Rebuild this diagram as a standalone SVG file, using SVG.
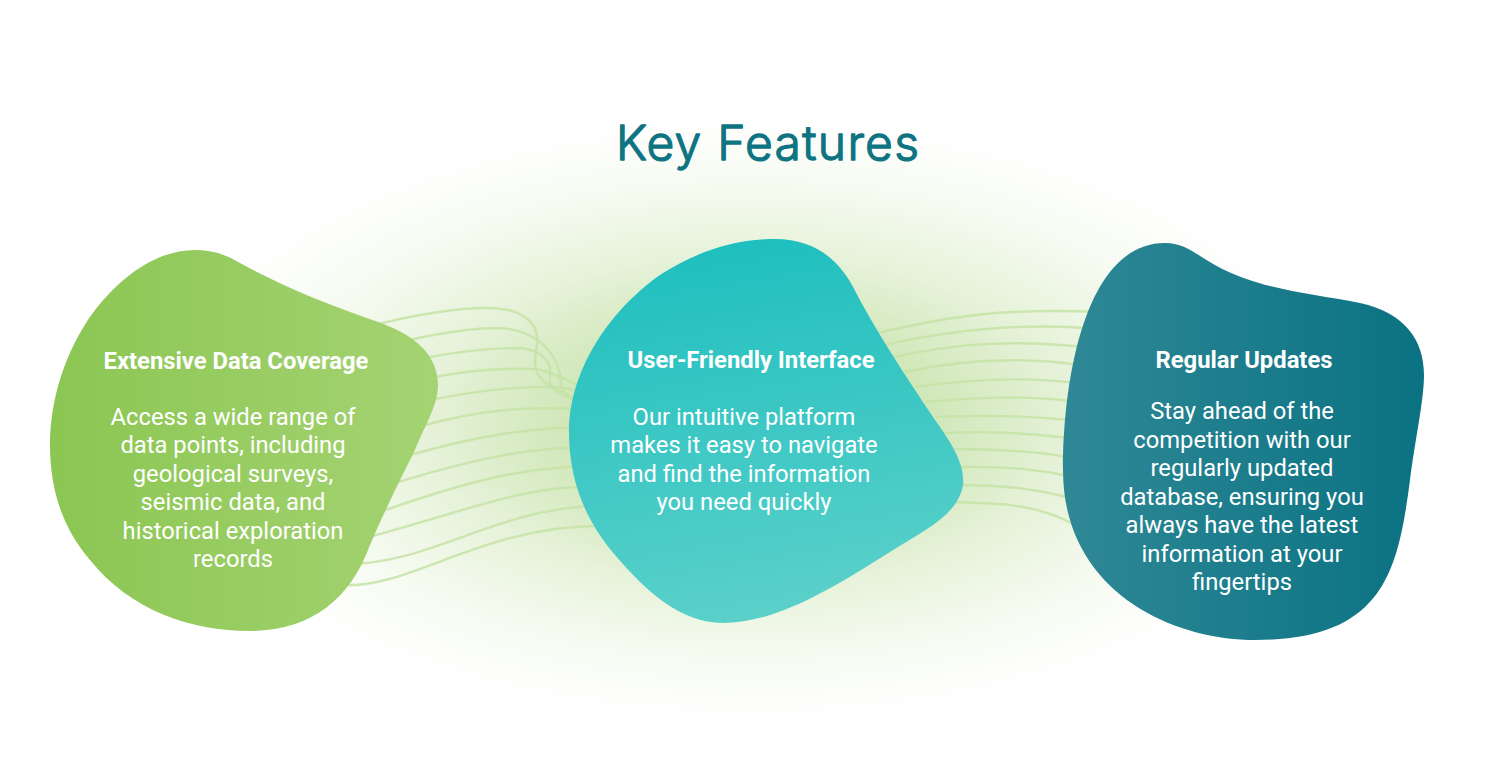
<svg xmlns="http://www.w3.org/2000/svg" width="1500" height="784" viewBox="0 0 1500 784">
<style>
.h{font:700 23.8px Roboto,"Liberation Sans",sans-serif;fill:#fff;text-anchor:middle}
.b{font:400 23.75px Roboto,"Liberation Sans",sans-serif;fill:#fff;text-anchor:middle}
.t{font:300 48px Inter,"Liberation Sans",sans-serif;fill:#0e7482;stroke:#0e7482;stroke-width:1.3;stroke-linejoin:round}
#connectors path{fill:none;stroke:#c6e3a6;stroke-width:2.4;opacity:.85}
</style>
<defs>
<radialGradient id="glow" cx="750" cy="420" r="1" gradientUnits="userSpaceOnUse" gradientTransform="translate(750 420) scale(590 300) translate(-750 -420)">
<stop offset="0" stop-color="#c2e1a0"/><stop offset=".3" stop-color="#d0e7b8"/><stop offset=".55" stop-color="#e6f2d9"/><stop offset=".8" stop-color="#f7fbf2"/><stop offset="1" stop-color="#fff"/>
</radialGradient>
<linearGradient id="g1" x1="0" x2="1" y1="0" y2="0"><stop offset="0" stop-color="#8bc652"/><stop offset="1" stop-color="#a5d373"/></linearGradient>
<linearGradient id="g2" x1=".45" x2=".62" y1="0" y2="1"><stop offset="0" stop-color="#1fbfbf"/><stop offset="1" stop-color="#5dd1ca"/></linearGradient>
<linearGradient id="g3" x1="0" x2="1" y1="0" y2="0"><stop offset="0" stop-color="#2f8896"/><stop offset="1" stop-color="#0a7282"/></linearGradient>
</defs>
<rect width="1500" height="784" fill="#fff"/>
<ellipse cx="750" cy="420" rx="590" ry="300" fill="url(#glow)"/>
<g id="connectors">
<path d="M370 326C410 316 450 308 487 308C525 308 540 325 537 345C532 375 535 380 574 398"/>
<path d="M405 341C440 333 470 328 500 328C530 330 548 345 556 362C565 380 555 385 570 398C575 402 580 405 590 408"/>
<path d="M425 358C460 351 490 348 520 348C545 350 552 365 550 375C547 393 565 398 590 402"/>
<path d="M430 378C470 370 510 368 535 369C555 372 575 385 590 390"/>
<path d="M430 400C480 390 520 386 555 387C570 388 580 392 590 395"/>
<path d="M425 425C480 410 530 405 590 410"/>
<path d="M410 455C480 435 535 427 590 427"/>
<path d="M395 483C470 460 530 447 590 447"/>
<path d="M380 512C470 480 530 466 595 466"/>
<path d="M365 538C470 510 520 486 600 486"/>
<path d="M345 564C430 565 500 506 600 506"/>
<path d="M340 585C410 590 480 526 600 526"/>
<path d="M870 335C950 315 1010 308 1100 312"/>
<path d="M880 346C950 330 1020 322 1095 329"/>
<path d="M890 358C960 342 1020 340 1085 347"/>
<path d="M905 372C970 358 1030 358 1080 365"/>
<path d="M915 387C980 378 1030 377 1075 383"/>
<path d="M925 402C990 396 1040 397 1070 401"/>
<path d="M935 417C1000 414 1040 417 1070 420"/>
<path d="M945 433C1000 430 1040 435 1068 438"/>
<path d="M950 449C1010 449 1040 452 1068 457"/>
<path d="M955 467C1010 466 1040 470 1068 476"/>
<path d="M955 485C1010 485 1040 490 1070 498"/>
<path d="M950 502C1010 503 1040 506 1075 525"/>
</g>
<text id="title" class="t" x="616" y="160" textLength="303">Key Features</text>
<g id="node-data-coverage">
<path fill="url(#g1)" d="M195 250C215 250 228 256 240 263C285 288 330 305 378 322C415 335 438 355 438 385C438 405 425 425 415 450C400 480 385 510 370 545C350 600 310 631 250 631C190 631 130 610 90 560C60 525 50 485 50 445C50 400 65 350 95 310C125 272 160 250 195 250Z"/>
<text class="h" x="236" y="369">Extensive Data Coverage</text>
<text class="b" x="233" y="425">Access a wide range of</text>
<text class="b" x="233" y="453">data points, including</text>
<text class="b" x="233" y="482">geological surveys,</text>
<text class="b" x="233" y="510">seismic data, and</text>
<text class="b" x="233" y="538.500">historical exploration</text>
<text class="b" x="233" y="567">records</text>
</g>
<g id="node-interface">
<path fill="url(#g2)" d="M775 239C815 239 838 260 852 285C875 330 905 375 935 420C953 445 965 465 963 485C958 515 925 530 890 552C830 590 775 623 723 623C680 623 645 590 615 555C585 520 569 480 569 432C569 370 610 310 660 275C695 252 735 239 775 239Z"/>
<text class="h" x="751" y="368">User-Friendly Interface</text>
<text class="b" x="744" y="425">Our intuitive platform</text>
<text class="b" x="744" y="453">makes it easy to navigate</text>
<text class="b" x="744" y="482">and find the information</text>
<text class="b" x="744" y="510">you need quickly</text>
</g>
<g id="node-updates">
<path fill="url(#g3)" d="M1165 243C1185 243 1197 255 1215 265C1260 290 1310 293 1360 303C1405 313 1424 340 1424 375C1424 400 1415 440 1410 480C1398 570 1385 640 1255 640C1170 640 1063 590 1063 470C1063 380 1085 243 1165 243Z"/>
<text class="h" x="1244" y="368">Regular Updates</text>
<text class="b" x="1242" y="419">Stay ahead of the</text>
<text class="b" x="1242" y="448">competition with our</text>
<text class="b" x="1242" y="476">regularly updated</text>
<text class="b" x="1242" y="505">database, ensuring you</text>
<text class="b" x="1242" y="533">always have the latest</text>
<text class="b" x="1242" y="562">information at your</text>
<text class="b" x="1242" y="590">fingertips</text>
</g>
</svg>
